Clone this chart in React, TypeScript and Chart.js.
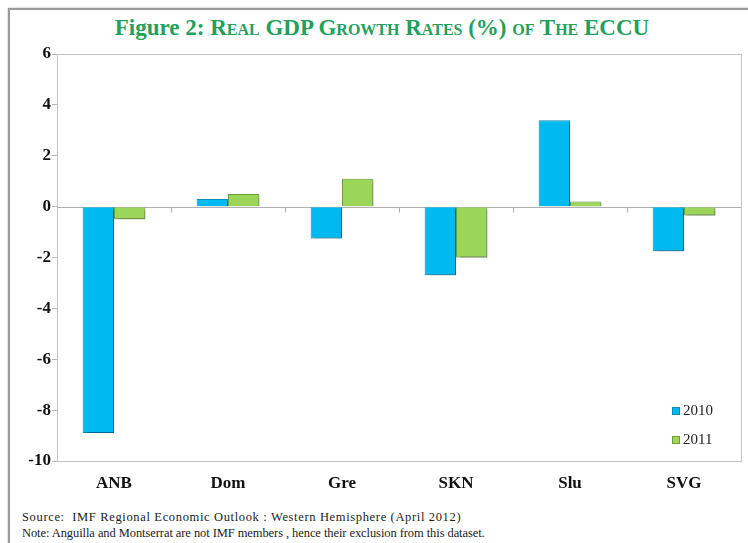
import React, { useEffect, useRef } from "react";
import { Chart, registerables } from "chart.js";

Chart.register(...registerables);

const categories = ["ANB", "Dom", "Gre", "SKN", "Slu", "SVG"];
const series2010 = [-8.9, 0.3, -1.25, -2.7, 3.4, -1.75];
const series2011 = [-0.5, 0.5, 1.1, -2.0, 0.2, -0.35];
const seriesLabels = ["2010", "2011"];
const yMin = -10;
const yMax = 6;
const yStep = 2;

const SERIF = "'Liberation Serif', 'DejaVu Serif', serif";

const framePlugin = {
  id: "framePlugin",
  beforeDatasetsDraw(chart: any) {
    const { ctx, chartArea } = chart;
    const x = chart.scales.x;
    const y = chart.scales.y;
    ctx.save();
    ctx.strokeStyle = "#c4c4c4";
    ctx.lineWidth = 1;
    ctx.strokeRect(
      Math.round(chartArea.left) + 0.5,
      Math.round(chartArea.top) + 0.5,
      Math.round(chartArea.right - chartArea.left),
      Math.round(chartArea.bottom - chartArea.top)
    );
    const zy = Math.round(y.getPixelForValue(0)) + 0.5;
    ctx.beginPath();
    ctx.moveTo(chartArea.left, zy);
    ctx.lineTo(chartArea.right, zy);
    ctx.strokeStyle = "#b0b0b0";
    ctx.stroke();
    for (let i = 1; i < categories.length; i++) {
      const bx = Math.round((x.getPixelForValue(i - 1) + x.getPixelForValue(i)) / 2) + 0.5;
      ctx.beginPath();
      ctx.moveTo(bx, zy);
      ctx.lineTo(bx, zy + 5);
      ctx.stroke();
    }
    ctx.restore();
    ctx.save();
    ctx.shadowColor = "rgba(0,0,0,0.4)";
    ctx.shadowOffsetX = 2;
    ctx.shadowOffsetY = 2;
    ctx.shadowBlur = 3;
  },
  afterDatasetsDraw(chart: any) {
    chart.ctx.restore();
  },
  afterDraw(chart: any) {
    const { ctx, chartArea } = chart;
    ctx.save();
    chart.data.datasets.forEach((ds: any, i: number) => {
      const bx = chartArea.right - 69;
      const cy = chartArea.bottom - 50 + i * 29;
      ctx.fillStyle = ds.backgroundColor;
      ctx.strokeStyle = ds.borderColor;
      ctx.lineWidth = 1;
      ctx.fillRect(bx, cy - 4, 8, 8);
      ctx.strokeRect(bx + 0.5, cy - 3.5, 7, 7);
      ctx.fillStyle = "#222";
      ctx.font = `15px ${SERIF}`;
      ctx.textBaseline = "middle";
      ctx.textAlign = "left";
      ctx.fillText(ds.label, bx + 11, cy);
    });
    ctx.restore();
  },
};

export default function App() {
  const ref = useRef<HTMLCanvasElement | null>(null);

  useEffect(() => {
    if (!ref.current) return;
    const chart = new Chart(ref.current, {
      type: "bar",
      data: {
        labels: categories,
        datasets: [
          {
            label: seriesLabels[0],
            data: series2010,
            backgroundColor: "#00b9f1",
            borderColor: "#0a8fbd",
            borderWidth: 1,
          },
          {
            label: seriesLabels[1],
            data: series2011,
            backgroundColor: "#9bd55a",
            borderColor: "#6e9e3c",
            borderWidth: 1,
          },
        ],
      },
      options: {
        responsive: false,
        animation: false,
        devicePixelRatio: 1,
        layout: { padding: { top: 14, right: 7, left: 0, bottom: 0 } },
        datasets: { bar: { categoryPercentage: 0.55, barPercentage: 1.0 } },
        plugins: {
          legend: { display: false },
          title: { display: false },
          tooltip: { enabled: false },
        },
        scales: {
          x: {
            grid: { display: false, drawTicks: false },
            border: { display: false },
            ticks: {
              color: "#111",
              font: { family: SERIF, size: 17, weight: "bold" },
              padding: 12,
            },
            afterFit(scale: any) {
              scale.height = 34;
            },
          },
          y: {
            min: yMin,
            max: yMax,
            ticks: {
              stepSize: yStep,
              color: "#111",
              font: { family: SERIF, size: 17, weight: "bold" },
              padding: 1,
            },
            grid: {
              drawOnChartArea: false,
              tickLength: 5,
              tickColor: "#b8b8b8",
            },
            border: { display: true, color: "#c4c4c4" },
            afterFit(scale: any) {
              scale.width = 47;
            },
          },
        },
      },
      plugins: [framePlugin],
    });
    return () => chart.destroy();
  }, []);

  return (
    <div
      style={{
        position: "absolute",
        left: 0,
        top: 0,
        width: 748,
        height: 543,
        overflow: "hidden",
        background: "#fff",
      }}
    >
      <div
        style={{
          position: "absolute",
          left: 8,
          top: 8,
          width: 800,
          height: 600,
          border: "2px solid #9a9a9a",
          boxShadow: "0 0 2px rgba(0,0,0,0.3)",
        }}
      />
      <div
        style={{
          position: "absolute",
          left: 0,
          top: 15,
          width: 764,
          textAlign: "center",
          fontFamily: SERIF,
          fontWeight: "bold",
          fontSize: 23,
          color: "#23a05a",
          whiteSpace: "nowrap",
        }}
      >
        Figure 2:{" "}
        <span style={{ fontVariant: "small-caps" }}>Real GDP Growth Rates (%) of The ECCU</span>
      </div>
      <canvas
        ref={ref}
        width={738}
        height={455}
        style={{ position: "absolute", left: 10, top: 40, width: 738, height: 455 }}
      />
      <div
        style={{
          position: "absolute",
          left: 22,
          top: 509,
          fontFamily: SERIF,
          fontSize: 12.5,
          lineHeight: "16px",
          color: "#222",
          whiteSpace: "nowrap",
        }}
      >
        <div style={{ letterSpacing: "0.65px" }}>
          Source:&nbsp; IMF Regional Economic Outlook : Western Hemisphere (April 2012)
        </div>
        <div style={{ letterSpacing: "-0.08px" }}>
          Note: Anguilla and Montserrat are not IMF members , hence their exclusion from this dataset.
        </div>
      </div>
    </div>
  );
}
